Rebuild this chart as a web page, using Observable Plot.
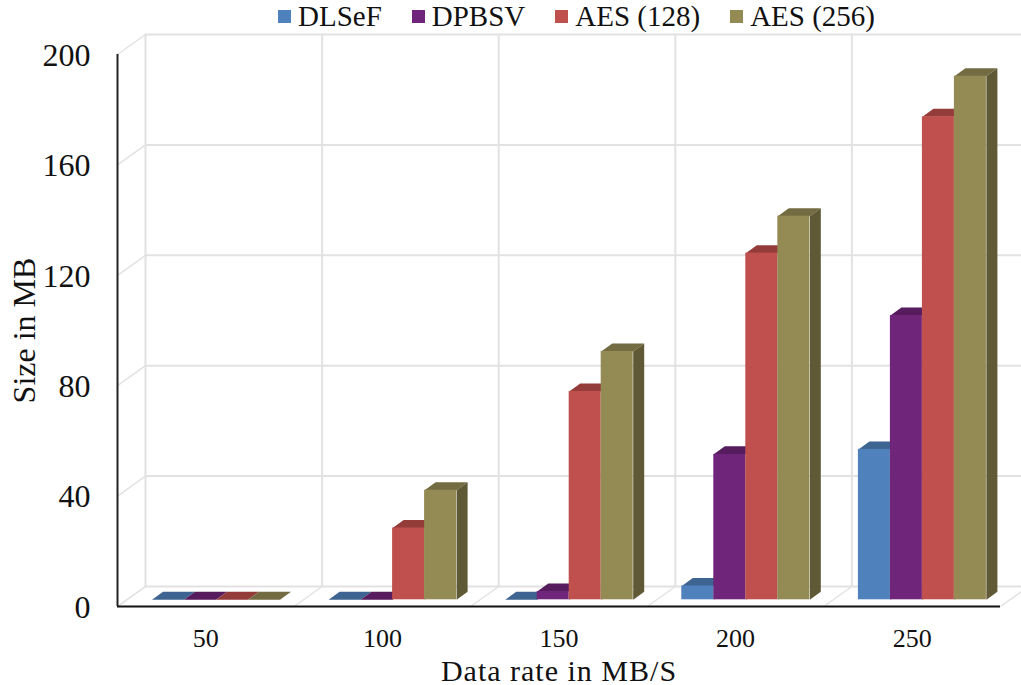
<!DOCTYPE html>
<html>
<head>
<meta charset="utf-8">
<script src="https://cdn.jsdelivr.net/npm/d3@7"></script>
<script src="https://cdn.jsdelivr.net/npm/@observablehq/plot@0.6"></script>
<style>
  html, body { margin: 0; padding: 0; background: #fff; }
  #chart { width: 1021px; height: 685px; overflow: hidden; position: relative; }
  #legend { position: absolute; left: 278px; top: -1px; height: 34px; z-index: 1; }
  #legend > div { margin: 0; min-height: 34px; font-family: "Liberation Serif", serif; font-size: 29px; color: #111; line-height: 34px; }
  #legend span { margin-right: 30px !important; display: inline-flex; align-items: center; }
  #legend svg { margin-right: 7px !important; }
  #plot { position: absolute; left: 0; top: 30px; }
  #plot svg { overflow: hidden; }
  #plot [aria-label="x-axis label"] { font-size: 30px; letter-spacing: 1px; }
  #plot [aria-label="y-axis label"] { font-size: 32px; }
</style>
</head>
<body>
<div id="chart"><div id="legend"></div><div id="plot"></div></div>
<script>
// Measured sizes per data rate, one list per scheme
const rates = [50, 100, 150, 200, 250];
const seriesNames = ["DLSeF", "DPBSV", "AES (128)", "AES (256)"];
const dlsef = [0, 0, 0, 5, 54.5];
const dpbsv = [0, 0, 3, 52.7, 103];
const aes128 = [0, 26, 75.5, 125.6, 175];
const aes256 = [0, 39.7, 90, 139, 189.7];
const sizeTicks = [0, 40, 80, 120, 160, 200];

const frontColors = ["#4f81bd", "#6f2579", "#c0504d", "#948a54"];
const topColors = ["#3e6591", "#561c5e", "#933c3a", "#736b41"];
const sideColors = ["#335478", "#47174e", "#7a3230", "#5f5935"];

// Oblique projection, expressed in axis units so everything passes through the scales
const pxX = 883 / 5, pxY = 552 / 200;
const wallX = 28 / pxX, wallY = 20 / pxY;       // depth of the back wall
const barX = 11 / pxX, barY = 8 / pxY;          // depth of a single column
const startX = 34.5 / pxX, floorY = 6.7 / pxY;  // where a column group sits on the floor
const barW = 32 / pxX;

const values = [dlsef, dpbsv, aes128, aes256];
const bars = values.flatMap((vals, s) => vals.map((v, i) => {
  const x1 = i + startX + s * barW;
  return {s, i, v, x1, x2: x1 + barW};
}));

// Each face becomes a closed polyline, keyed by face id
const face = (id, fill, pts) => pts.map(([x, y]) => ({id, fill, x, y}));
const tops = bars.flatMap(b => face(`t${b.s}-${b.i}`, topColors[b.s], [
  [b.x1, b.v + floorY], [b.x1 + barX, b.v + floorY + barY],
  [b.x2 + barX, b.v + floorY + barY], [b.x2, b.v + floorY]
]));
const sides = bars.filter(b => b.v > 0).flatMap(b => face(`r${b.s}-${b.i}`, sideColors[b.s], [
  [b.x2, floorY], [b.x2 + barX, floorY + barY],
  [b.x2 + barX, b.v + floorY + barY], [b.x2, b.v + floorY]
]));

const grid = {stroke: "#e2e2e2", strokeWidth: 2};
const bounds = d3.range(rates.length + 1);

const chart = Plot.plot({
  width: 1021,
  height: 655,
  marginLeft: 117,
  marginRight: 21,
  marginTop: 24,
  marginBottom: 79,
  style: {fontFamily: "'Liberation Serif', serif", color: "#111", background: "transparent"},
  x: {domain: [0, rates.length], range: [117, 1000]},
  y: {domain: [0, 200], range: [576, 24]},
  marks: [
    // back wall
    Plot.ruleY(sizeTicks, {x1: wallX, x2: rates.length + wallX, y: d => d + wallY, ...grid}),
    Plot.ruleX(bounds, {x: d => d + wallX, y1: wallY, y2: 200 + wallY, ...grid}),
    // left wall and floor diagonals
    Plot.link(sizeTicks, {x1: 0, y1: d => d, x2: wallX, y2: d => d + wallY, ...grid, strokeWidth: 1.5}),
    Plot.link(bounds, {x1: d => d, y1: 0, x2: d => d + wallX, y2: wallY, ...grid, strokeWidth: 1.5}),
    // column faces
    Plot.line(tops, {x: "x", y: "y", z: "id", fill: "fill", stroke: "none"}),
    Plot.line(sides, {x: "x", y: "y", z: "id", fill: "fill", stroke: "none"}),
    Plot.rect(bars.filter(b => b.v > 0), {
      x1: "x1", x2: "x2", y1: floorY, y2: b => b.v + floorY,
      fill: b => frontColors[b.s]
    }),
    // front axes
    Plot.ruleX([0], {y1: 0, y2: 200, stroke: "#222", strokeWidth: 2}),
    Plot.ruleY([0], {x1: 0, x2: rates.length, stroke: "#111", strokeWidth: 2}),
    Plot.axisY(sizeTicks, {
      anchor: "left", tickSize: 0, tickPadding: 27, fontSize: 32, dy: 1,
      label: "Size in MB", labelAnchor: "center", labelArrow: "none", labelOffset: 105
    }),
    Plot.axisX(rates.map((_, i) => i + 0.5), {
      anchor: "bottom", tickSize: 0, tickPadding: 22, fontSize: 26,
      tickFormat: d => rates[d - 0.5],
      label: "Data rate in MB/S", labelAnchor: "center", labelArrow: "none", labelOffset: 74
    })
  ]
});
document.getElementById("plot").append(chart);

document.getElementById("legend").append(Plot.legend({
  color: {domain: seriesNames, range: frontColors, type: "ordinal"},
  swatchSize: 13
}));
</script>
</body>
</html>
